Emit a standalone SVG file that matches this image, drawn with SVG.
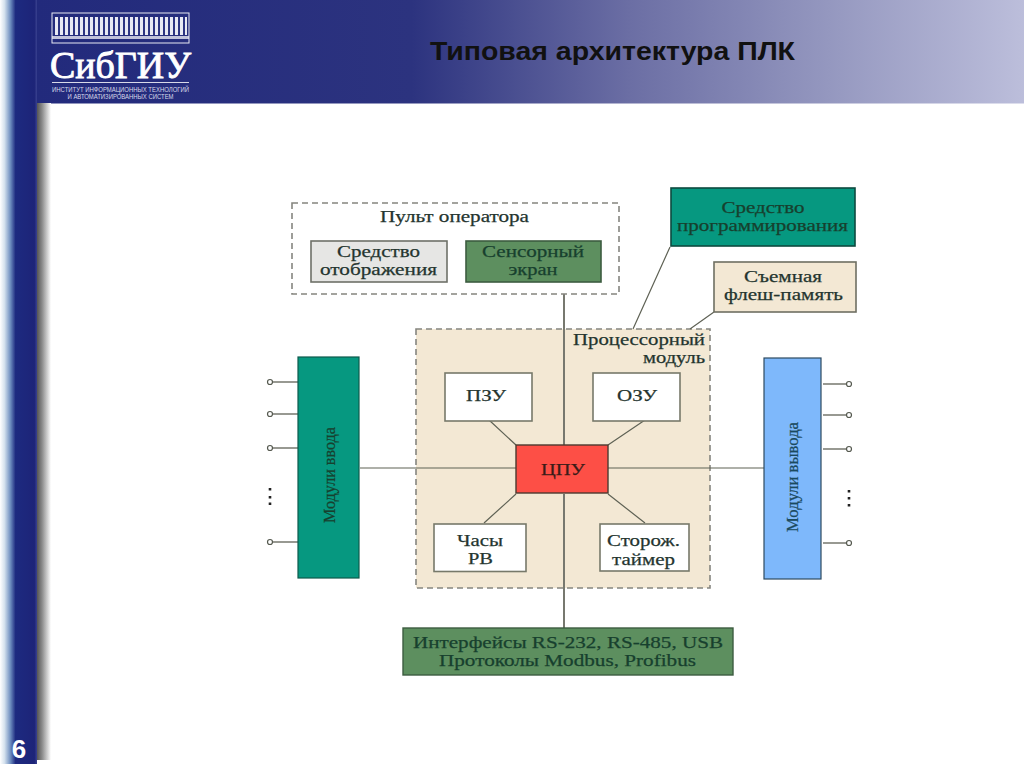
<svg xmlns="http://www.w3.org/2000/svg" width="1024" height="767" viewBox="0 0 1024 767">
<defs>
<linearGradient id="hdr" x1="0" x2="1" y1="0" y2="0"><stop offset="0" stop-color="#222a7c"/><stop offset="0.38" stop-color="#2c337f"/><stop offset="0.6" stop-color="#6b6ea4"/><stop offset="0.8" stop-color="#9497bf"/><stop offset="1" stop-color="#bcbedb"/></linearGradient>
<linearGradient id="bar" x1="0" x2="1" y1="0" y2="0"><stop offset="0" stop-color="#ffffff"/><stop offset="0.12" stop-color="#d5e2ee"/><stop offset="0.28" stop-color="#6f8fc0"/><stop offset="0.42" stop-color="#1d2a80"/><stop offset="0.93" stop-color="#1d2478"/><stop offset="1" stop-color="#3a4290"/></linearGradient>
<linearGradient id="shadow" x1="0" x2="1" y1="0" y2="0"><stop offset="0" stop-color="#4a4a4a"/><stop offset="0.4" stop-color="#8a8a8a"/><stop offset="1" stop-color="#ffffff"/></linearGradient>
<pattern id="cols" width="5" height="30" patternUnits="userSpaceOnUse"><rect width="5" height="30" fill="#2c3482"/><rect width="3" height="30" fill="#e8e9f3"/></pattern>
</defs>
<style>
text{font-family:"Liberation Serif","DejaVu Serif",serif;fill:#24352f;text-anchor:middle}
.t{font-size:17px;stroke:#24352f;stroke-width:.25}
.g{fill:#17402e;stroke:#17402e}
.c{stroke:#5f6255;stroke-width:1.200;fill:none}
.th{stroke:#77786f;stroke-width:2;fill:none}
.dash{stroke:#85857f;stroke-width:1.600;stroke-dasharray:6 4}
.w{fill:#fff;stroke:#77796a;stroke-width:1.600}
.p{fill:#fff;stroke:#55594f;stroke-width:1.200}
</style>
<rect width="1024" height="767" fill="#fff"/>
<g id="background">
<rect x="36" y="0" width="988" height="103.500" fill="url(#hdr)"/>
<rect x="36" y="103" width="15" height="657" fill="url(#shadow)"/>
<rect x="0" y="0" width="37" height="764" fill="url(#bar)"/>
</g>
<g id="logo">
<rect x="52" y="13" width="137" height="30" fill="none" stroke="#e8e9f3" stroke-width="1"/>
<rect x="55" y="17" width="132" height="18" fill="url(#cols)"/>
<rect x="52" y="36" width="137" height="3" fill="#e8e9f3" opacity=".8"/>
<text x="120.500" y="78" style="font-size:37px;fill:#fff;stroke:#fff;stroke-width:.9" textLength="141" lengthAdjust="spacingAndGlyphs">СибГИУ</text>
<rect x="52" y="82" width="137" height="1" fill="#d8d9e8"/>
<text x="120.500" y="92" style="font-size:6.500px;fill:#d9daea;font-family:'Liberation Sans',sans-serif" textLength="137" lengthAdjust="spacingAndGlyphs">ИНСТИТУТ ИНФОРМАЦИОННЫХ ТЕХНОЛОГИЙ</text>
<text x="120.500" y="99" style="font-size:6.500px;fill:#d9daea;font-family:'Liberation Sans',sans-serif" textLength="106" lengthAdjust="spacingAndGlyphs">И АВТОМАТИЗИРОВАННЫХ СИСТЕМ</text>
</g>
<text id="title" x="612.500" y="60" style="font-family:'Liberation Sans',sans-serif;font-size:25px;font-weight:bold;fill:#111" textLength="365" lengthAdjust="spacingAndGlyphs">Типовая архитектура ПЛК</text>
<text id="page" x="19" y="758" style="font-family:'Liberation Sans',sans-serif;font-size:26px;font-weight:bold;fill:#fff">6</text>
<g id="processor-module"><rect x="416" y="329" width="294" height="259" fill="#f3e8d4" class="dash"/>
<text class="t" x="639" y="345" textLength="132" lengthAdjust="spacingAndGlyphs">Процессорный</text><text class="t" x="674" y="363" textLength="62" lengthAdjust="spacingAndGlyphs">модуль</text></g>
<g id="connectors">
<path class="th" d="M564 294V445M564 494V628"/>
<path class="c" d="M360 468H516M608 468H764"/>
<path class="c" d="M489 420L516 445M645 420L608 445M484 523L516 494M645 523L608 494"/>
<path class="c" d="M670 247L633 329M714 312L690 329"/>
<path class="th" style="stroke-width:1.500" d="M273 382H298M273 414H298M273 448H298M273 542H298M823 384H848M823 415H848M823 449H848M823 543H848"/>
</g>
<g id="operator-panel"><rect x="292" y="203" width="327" height="91" fill="#fff" class="dash"/>
<text class="t" x="454.500" y="222" textLength="149" lengthAdjust="spacingAndGlyphs">Пульт оператора</text></g>
<g id="display"><rect x="311" y="241" width="136" height="41" fill="#e6e6e4" stroke="#6e7168" stroke-width="1.600"/>
<text class="t" x="378.500" y="257" textLength="83" lengthAdjust="spacingAndGlyphs">Средство</text><text class="t" x="378.500" y="275" textLength="117" lengthAdjust="spacingAndGlyphs">отображения</text></g>
<g id="touch-screen"><rect x="466" y="241" width="135" height="41" fill="#5d8f5f" stroke="#3d5c40" stroke-width="1.600"/>
<text class="t g" x="533" y="257" textLength="102" lengthAdjust="spacingAndGlyphs">Сенсорный</text><text class="t g" x="533" y="275" textLength="49" lengthAdjust="spacingAndGlyphs">экран</text></g>
<g id="programmer"><rect x="671" y="188" width="184" height="58" fill="#069880" stroke="#0d4a3f" stroke-width="1.600"/>
<text class="t g" x="763" y="213" textLength="83" lengthAdjust="spacingAndGlyphs">Средство</text><text class="t g" x="762.500" y="231" textLength="171" lengthAdjust="spacingAndGlyphs">программирования</text></g>
<g id="flash"><rect x="714" y="262" width="142" height="50" fill="#f3e8d4" stroke="#6e6f62" stroke-width="1.600"/>
<text class="t" x="783" y="282" textLength="78" lengthAdjust="spacingAndGlyphs">Съемная</text><text class="t" x="783.500" y="300" textLength="119" lengthAdjust="spacingAndGlyphs">флеш-память</text></g>
<g id="rom"><rect class="w" x="445" y="373" width="87" height="48"/><text class="t" x="486" y="401" textLength="40" lengthAdjust="spacingAndGlyphs">ПЗУ</text></g>
<g id="ram"><rect class="w" x="593" y="373" width="87" height="48"/><text class="t" x="637" y="401" textLength="40" lengthAdjust="spacingAndGlyphs">ОЗУ</text></g>
<g id="cpu"><rect x="516" y="445" width="92" height="48" fill="#fd4f46" stroke="#4a3a30" stroke-width="1.400"/><text x="563" y="475" class="t" style="fill:#3a1c18;stroke:#3a1c18" textLength="44" lengthAdjust="spacingAndGlyphs">ЦПУ</text></g>
<g id="clock"><rect class="w" x="434" y="524" width="92" height="47.500"/><text class="t" x="480" y="546" textLength="46" lengthAdjust="spacingAndGlyphs">Часы</text><text class="t" x="480.500" y="564" textLength="25" lengthAdjust="spacingAndGlyphs">РВ</text></g>
<g id="watchdog"><rect class="w" x="600" y="524" width="89" height="47"/><text class="t" x="643.500" y="546" textLength="73" lengthAdjust="spacingAndGlyphs">Сторож.</text><text class="t" x="643.500" y="565" textLength="63" lengthAdjust="spacingAndGlyphs">таймер</text></g>
<g id="interfaces"><rect x="403" y="628" width="330" height="47" fill="#5d8f5f" stroke="#3d5c40" stroke-width="1.400"/>
<text class="t g" x="568" y="648" textLength="310" lengthAdjust="spacingAndGlyphs">Интерфейсы RS-232, RS-485, USB</text><text class="t g" x="567.500" y="666" textLength="257" lengthAdjust="spacingAndGlyphs">Протоколы Modbus, Profibus</text></g>
<g id="input-modules"><rect x="298" y="357" width="61" height="221" fill="#069880" stroke="#0d5a4c" stroke-width="1.200"/>
<text class="t g" transform="translate(335 475) rotate(-90)" textLength="96" lengthAdjust="spacingAndGlyphs">Модули ввода</text>
<circle class="p" cx="270" cy="382" r="2.500"/><circle class="p" cx="270" cy="414" r="2.500"/><circle class="p" cx="270" cy="448" r="2.500"/><circle class="p" cx="270" cy="542" r="2.500"/>
<path d="M270 488v2.500M270 496v2.500M270 502.500v2.500" stroke="#222" stroke-width="2.600" fill="none"/></g>
<g id="output-modules"><rect x="764" y="358" width="57" height="221" fill="#7eb8fb" stroke="#2e4a60" stroke-width="1.200"/>
<text class="t" style="fill:#1b4a5e;stroke:#1b4a5e" transform="translate(798 477) rotate(-90)" textLength="110" lengthAdjust="spacingAndGlyphs">Модули вывода</text>
<circle class="p" cx="849" cy="384" r="2.500"/><circle class="p" cx="849" cy="415" r="2.500"/><circle class="p" cx="849" cy="449" r="2.500"/><circle class="p" cx="849" cy="543" r="2.500"/>
<path d="M849 490v2.500M849 497v2.500M849 504v2.500" stroke="#222" stroke-width="2.600" fill="none"/></g>
</svg>
